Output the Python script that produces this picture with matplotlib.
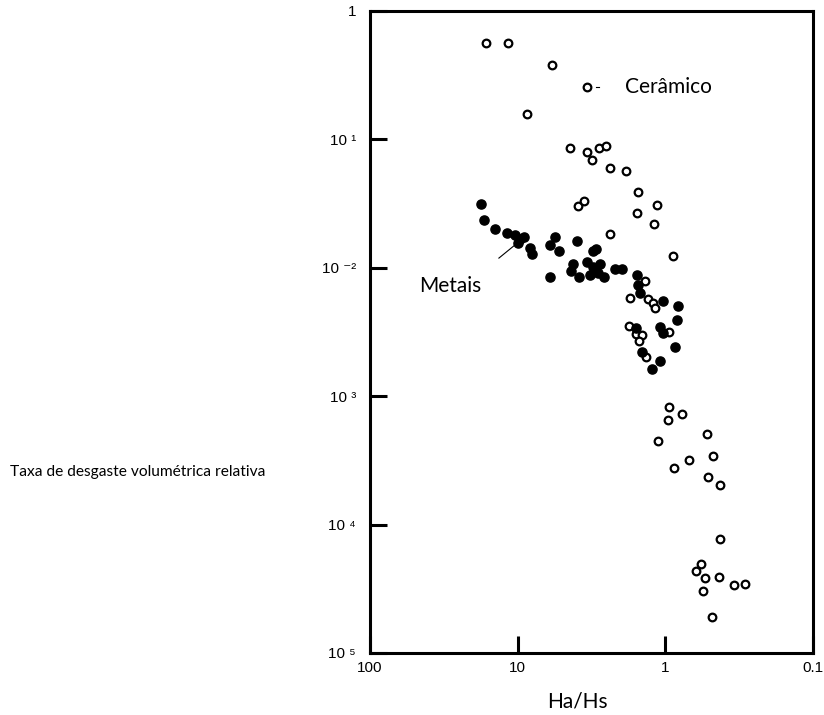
import matplotlib
matplotlib.use("Agg")
import matplotlib.pyplot as plt

# ceramics (open circles)
ceram_x = [16.4, 11.6, 5.83, 3.38, 8.65, 4.43, 3.38, 3.15, 2.80, 2.54, 2.37, 1.85, 1.52,
           3.89, 3.56, 1.135, 1.55, 1.19, 2.36, 0.889, 1.37, 1.74, 1.31, 1.22, 1.175,
           1.76, 1.58, 1.43, 1.50, 0.946, 1.35,
           0.94, 0.776, 0.955, 1.12, 0.52, 0.478, 0.689, 0.874, 0.512, 0.427, 0.427,
           0.574, 0.621, 0.54, 0.432, 0.343, 0.289, 0.56, 0.481]
ceram_y = [0.56, 0.566, 0.38, 0.257, 0.158, 0.0861, 0.0794, 0.0687, 0.086, 0.0883, 0.0596, 0.0567, 0.0387,
           0.0305, 0.0331, 0.0308, 0.0268, 0.0218, 0.0182, 0.0124, 0.00789, 0.00585, 0.00571, 0.00535, 0.00483,
           0.00352, 0.00305, 0.00298, 0.0027, 0.00318, 0.00201,
           8.28e-4, 7.31e-4, 6.53e-4, 4.48e-4, 5.08e-4, 3.44e-4, 3.17e-4, 2.76e-4, 2.35e-4, 2.03e-4, 7.67e-5,
           4.93e-5, 4.38e-5, 3.82e-5, 3.93e-5, 3.39e-5, 3.43e-5, 3.04e-5, 1.9e-5]

# metals (filled circles)
metal_x = [17.8, 17.0, 14.2, 11.9, 10.5, 9.9, 9.65, 9.06, 8.26, 7.96, 6.04, 5.59, 5.23, 6.04,
           3.95, 3.08, 2.95, 4.2, 4.38, 3.83, 3.41, 3.11, 2.77, 3.24, 2.85, 2.6, 2.19, 1.98,
           1.55, 1.52, 1.49, 1.04, 0.826, 0.837, 1.58, 1.09, 1.04, 0.861, 1.45, 1.09, 1.24]
metal_y = [0.0314, 0.0237, 0.0200, 0.0188, 0.0180, 0.0155, 0.0168, 0.0173, 0.0142, 0.0128, 0.0151, 0.0175, 0.0136, 0.00848,
           0.0163, 0.0136, 0.0139, 0.0108, 0.0095, 0.00853, 0.0111, 0.0101, 0.0107, 0.0088, 0.00916, 0.00843, 0.00973, 0.00984,
           0.0088, 0.00734, 0.00632, 0.00554, 0.00507, 0.0039, 0.00338, 0.00348, 0.00312, 0.00243, 0.00222, 0.00188, 0.00162]

xticks = [100, 10, 1, 0.1]
xlabels = ["100", "10", "1", "0.1"]
yticks = [1, 1e-1, 1e-2, 1e-3, 1e-4, 1e-5]
ylabels = ["1", "10 \u00b9", "10 \u207b\u00b2", "10 \u00b3", "10 \u2074", "10 \u2075"]

fig = plt.figure(figsize=(8.24, 7.15), dpi=100)
ax = fig.add_axes([370/824, 1-653/715, 443/824, 642/715])
ax.set_xscale("log")
ax.set_yscale("log")
ax.set_xlim(100, 0.1)
ax.set_ylim(1e-5, 1)

ax.plot(ceram_x, ceram_y, "o", ms=5.5, mfc="white", mec="black", mew=1.6, linestyle="none")
ax.plot(metal_x, metal_y, "o", ms=6.6, mfc="black", mec="black", linestyle="none")

for s in ax.spines.values():
    s.set_linewidth(2.2)

ax.set_xticks(xticks)
ax.set_xticklabels(xlabels, family=["Liberation Sans", "DejaVu Sans"], fontsize=11)
ax.set_yticks(yticks)
ax.set_yticklabels(ylabels, family=["Liberation Sans", "DejaVu Sans"], fontsize=11)
ax.minorticks_off()
ax.tick_params(axis="both", direction="in", length=12, width=2.2)
ax.tick_params(axis="x", pad=6)
ax.tick_params(axis="y", pad=10)

ax.text(1.87, 0.255, "Cerâmico", fontsize=15, family="Lato", va="center", ha="left")
ax.plot([2.95, 2.82], [0.257, 0.257], color="black", lw=0.8)
ax.text(46.6, 0.0072, "Metais", fontsize=15, family="Lato", va="center", ha="left")
ax.plot([13.4, 10.4], [0.0119, 0.0151], color="black", lw=0.8)

fig.text(577/824, 1-702/715, "Ha/Hs", fontsize=15, family="Lato", ha="center", va="center")
fig.text(10/824, 1-472/715, "Taxa de desgaste volumétrica relativa", fontsize=11.2,
         family="Lato", ha="left", va="center")

fig.savefig("out.png", dpi=100)
